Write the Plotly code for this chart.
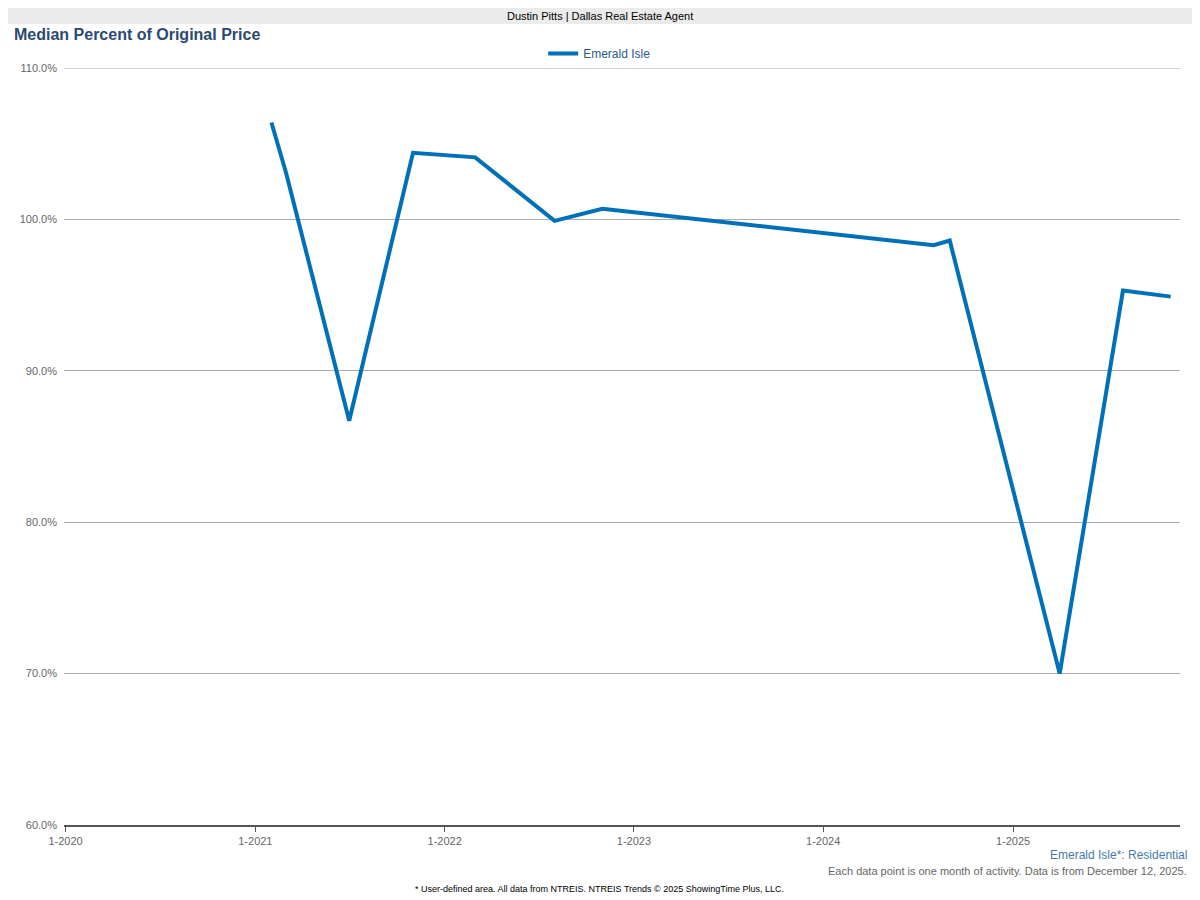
import plotly.graph_objects as go

dates = ["2021-02-01","2021-03-01","2021-07-01","2021-11-01","2022-03-01","2022-08-01",
         "2022-11-01","2024-08-01","2024-09-01","2025-04-01","2025-08-01","2025-11-01"]
values = [106.4,103.1,86.7,104.4,104.1,99.9,100.7,98.3,98.6,70.0,95.3,94.9]
yticks = [60,70,80,90,100,110]
xticks = ["2020-01-01","2021-01-01","2022-01-01","2023-01-01","2024-01-01","2025-01-01"]
xlabels = ["1-2020","1-2021","1-2022","1-2023","1-2024","1-2025"]

fig = go.Figure(go.Scatter(x=dates, y=values, mode="lines", name="Emerald Isle",
                           line=dict(color="#0070b8", width=4), showlegend=True))
fig.update_layout(
    width=1192, height=892, paper_bgcolor="white", plot_bgcolor="white",
    margin=dict(l=42, r=20, t=60, b=75),
    font=dict(family="Liberation Sans, Arial", size=12, color="#555"),
    showlegend=True,
    legend=dict(orientation="h", x=0.48, xanchor="center", y=1.0, yanchor="bottom",
                font=dict(color="#2a5a8a", size=12), bgcolor="rgba(0,0,0,0)"),
    xaxis=dict(type="date", range=["2019-12-29","2025-11-19"], tickvals=xticks, ticktext=xlabels,
               showgrid=False, showline=True, linecolor="#555", linewidth=2,
               ticks="outside", tickcolor="#555", ticklen=5, tickfont=dict(color="#666", size=11)),
    yaxis=dict(range=[60,110], tickvals=yticks, ticktext=[f"{v:.1f}%" for v in yticks],
               showgrid=True, gridcolor="#aaa", gridwidth=1, zeroline=False,
               ticks="", ticklabelstandoff=6, tickfont=dict(color="#666", size=11)),
    shapes=[dict(type="rect", xref="paper", yref="paper", x0=-0.06, x1=1.03, y0=1.0581, y1=1.09,
                 fillcolor="#ebebeb", line=dict(width=0), layer="below"),
            dict(type="line", xref="paper", yref="y", x0=0, x1=1, y0=110, y1=110,
                 line=dict(color="#aaa", width=1))],
    annotations=[
        dict(text="Dustin Pitts | Dallas Real Estate Agent", xref="paper", yref="paper",
             x=0.48, y=1.0687, showarrow=False, font=dict(color="#000", size=11), yanchor="middle"),
        dict(text="<b>Median Percent of Original Price</b>", xref="paper", yref="paper",
             x=-0.047, xanchor="left", y=1.0436, yanchor="middle", showarrow=False,
             font=dict(color="#2a4a6f", size=16)),
        dict(text="Emerald Isle*: Residential", xref="paper", yref="paper", x=1.008, xanchor="right",
             y=-0.0396, yanchor="middle", showarrow=False, font=dict(color="#4a7aaa", size=12)),
        dict(text="Each data point is one month of activity. Data is from December 12, 2025.",
             xref="paper", yref="paper", x=1.008, xanchor="right", y=-0.0608, yanchor="middle",
             showarrow=False, font=dict(color="#666", size=11)),
        dict(text="* User-defined area. All data from NTREIS. NTREIS Trends © 2025 ShowingTime Plus, LLC.",
             xref="paper", yref="paper", x=0.48, y=-0.0845, yanchor="middle", showarrow=False,
             font=dict(color="#000", size=9)),
    ],
)
fig.write_html("out.html")
